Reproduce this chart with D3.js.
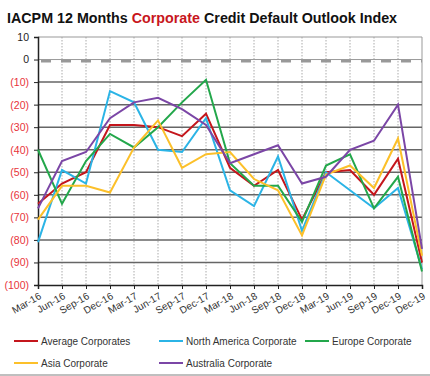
<!DOCTYPE html>
<html>
<head>
<meta charset="utf-8">
<script src="https://cdn.jsdelivr.net/npm/d3@7"></script>
<style>
  body { margin: 0; background: #fff; }
  svg { font-family: "Liberation Sans", Arial, sans-serif; }
</style>
</head>
<body>
<div id="chart"></div>
<script>
// quarter labels (last one is labelled Dec-19 twice in the original)
const categories = ["Mar-16", "Jun-16", "Sep-16", "Dec-16", "Mar-17", "Jun-17", "Sep-17", "Dec-17",
    "Mar-18", "Jun-18", "Sep-18", "Dec-18", "Mar-19", "Jun-19", "Sep-19", "Dec-19", "Dec-19"];

const average      = [-64, -55, -50, -29, -29, -30, -34, -24, -48, -56, -49, -71, -50, -49, -60, -44, -90];
const northAmerica = [-81, -49, -55, -14, -19, -40, -41, -26, -58, -65, -43, -76, -50, -58, -66, -57, -93];
const europe       = [-40, -64, -45, -33, -39, -30, -19, -9, -46, -56, -56, -72, -47, -42, -66, -52, -94];
const asia         = [-71, -56, -56, -59, -39, -27, -48, -42, -41, -53, -58, -78, -51, -47, -57, -35, -87];
const australia    = [-66, -45, -41, -26, -19, -17, -22, -29, -46, -42, -38, -55, -52, -40, -36, -20, -84];

const yTicks = [10, 0, -10, -20, -30, -40, -50, -60, -70, -80, -90, -100];

const series = [
    { name: 'Average Corporates', values: average, color: '#c4161c' },
    { name: 'North America Corporate', values: northAmerica, color: '#2bb4e6' },
    { name: 'Europe Corporate', values: europe, color: '#23a74b' },
    { name: 'Asia Corporate', values: asia, color: '#fcc02a' },
    { name: 'Australia Corporate', values: australia, color: '#7b46a6' }
];

const width = 430, height = 376;
const plot = { left: 38, right: 422, top: 37, bottom: 285 };

const svg = d3.select('#chart').append('svg')
    .attr('width', width)
    .attr('height', height);

// Title
const title = svg.append('text')
    .attr('x', 7)
    .attr('y', 23)
    .style('font-size', '14.3px')
    .style('font-weight', 'bold')
    .style('fill', '#111');
title.append('tspan').text('IACPM 12 Months ');
title.append('tspan').style('fill', '#c8161d').text('Corporate');
title.append('tspan').text(' Credit Default Outlook Index');

// Scales
const x = d3.scaleLinear()
    .domain([0, categories.length - 1])
    .range([plot.left, plot.right]);

const y = d3.scaleLinear()
    .domain([-100, 10])
    .range([plot.bottom, plot.top]);

// Vertical dotted gridlines
svg.append('g')
    .selectAll('line')
    .data(d3.range(1, categories.length))
    .enter()
    .append('line')
    .attr('x1', d => x(d))
    .attr('x2', d => x(d))
    .attr('y1', plot.top)
    .attr('y2', plot.bottom)
    .attr('stroke', d => d === categories.length - 1 ? '#999' : '#aaa')
    .attr('stroke-width', 1)
    .attr('stroke-dasharray', d => d === categories.length - 1 ? null : '1.5,1.5');

// Horizontal gridlines
svg.append('g')
    .selectAll('line')
    .data(yTicks.filter(d => d !== 0 && d !== -100))
    .enter()
    .append('line')
    .attr('x1', plot.left)
    .attr('x2', plot.right)
    .attr('y1', d => y(d))
    .attr('y2', d => y(d))
    .attr('stroke', d => d === 10 ? '#9a9a9a' : '#666')
    .attr('stroke-width', d => d === 10 ? 1.2 : 1.5);

// Zero line: thin line with thick dashes underneath
svg.append('line')
    .attr('x1', plot.left).attr('x2', plot.right)
    .attr('y1', y(0)).attr('y2', y(0))
    .attr('stroke', '#999')
    .attr('stroke-width', 1);
svg.append('line')
    .attr('x1', plot.left + 3).attr('x2', plot.right)
    .attr('y1', y(0) + 1.5).attr('y2', y(0) + 1.5)
    .attr('stroke', '#999')
    .attr('stroke-width', 3)
    .attr('stroke-dasharray', '10,10');

// Y axis
const yAxis = svg.append('g')
    .attr('transform', `translate(${plot.left},0)`)
    .call(d3.axisLeft(y)
        .tickValues(yTicks)
        .tickSize(4)
        .tickPadding(5)
        .tickFormat(d => d < 0 ? `(${-d})` : d));
yAxis.select('.domain').attr('stroke', '#222').attr('stroke-width', 1.5);
yAxis.selectAll('.tick line').attr('stroke', '#222');
yAxis.selectAll('text')
    .style('font-size', '10.5px')
    .style('fill', d => d < 0 ? '#e8333a' : '#222');

// X axis
const xAxis = svg.append('g')
    .attr('transform', `translate(0,${plot.bottom})`)
    .call(d3.axisBottom(x)
        .tickValues(d3.range(categories.length))
        .tickSize(4)
        .tickFormat(i => categories[i]));
xAxis.select('.domain').attr('stroke', '#222').attr('stroke-width', 1.5);
xAxis.selectAll('.tick line').attr('stroke', '#222');
xAxis.selectAll('text')
    .attr('text-anchor', 'end')
    .attr('y', 0)
    .attr('dy', '0.7em')
    .attr('transform', 'translate(0,7) rotate(-30)')
    .style('font-size', '10px')
    .style('fill', '#333');

// Lines
const line = d3.line()
    .x((d, i) => x(i))
    .y(d => y(d));

svg.append('g')
    .selectAll('path')
    .data(series)
    .enter()
    .append('path')
    .attr('d', d => line(d.values))
    .attr('fill', 'none')
    .attr('stroke', d => d.color)
    .attr('stroke-width', 2)
    .attr('stroke-linejoin', 'miter');

// Legend
const legendPos = [
    { x: 14, y: 341 }, { x: 159, y: 341 }, { x: 305, y: 341 },
    { x: 14, y: 363 }, { x: 159, y: 363 }
];

const legend = svg.append('g');
series.forEach((s, i) => {
    const row = legend.append('g')
        .attr('transform', `translate(${legendPos[i].x},${legendPos[i].y})`);
    row.append('line')
        .attr('x1', 0).attr('x2', 24)
        .attr('stroke', s.color)
        .attr('stroke-width', 2);
    row.append('text')
        .attr('x', 27)
        .attr('y', 3.5)
        .style('font-size', '10px')
        .style('fill', '#333')
        .text(s.name);
});

// bottom frame line
svg.append('line')
    .attr('x1', 0).attr('x2', width)
    .attr('y1', 375).attr('y2', 375)
    .attr('stroke', '#aaa')
    .attr('stroke-width', 1.5);
</script>
</body>
</html>
